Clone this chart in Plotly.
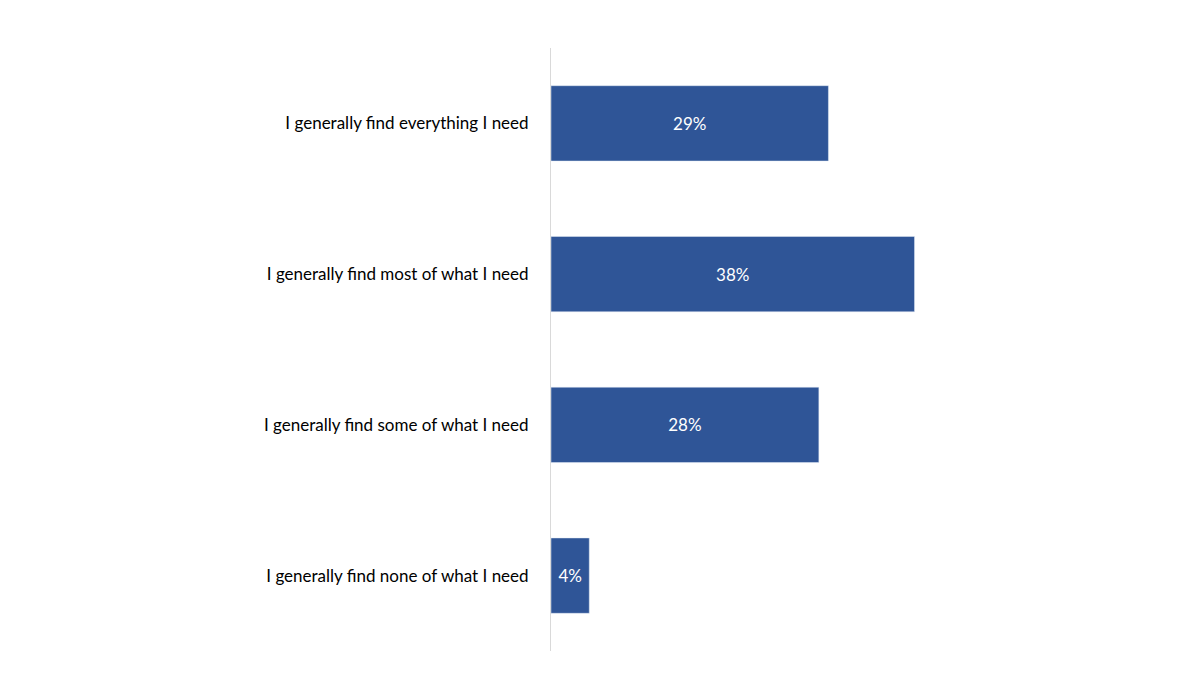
import plotly.graph_objects as go

categories = [
    "I generally find everything I need",
    "I generally find most of what I need",
    "I generally find some of what I need",
    "I generally find none of what I need",
]
values = [29, 38, 28, 4]
labels = ["29%", "38%", "28%", "4%"]

fig = go.Figure(go.Bar(
    x=values, y=categories, orientation="h",
    marker_color="#2F5597",
    text=labels, textposition="inside", insidetextanchor="middle",
    textfont=dict(color="white", size=17),
    cliponaxis=False,
))

fig.update_layout(
    width=1200, height=675,
    margin=dict(l=543, r=83, t=40, b=32),
    plot_bgcolor="white", paper_bgcolor="white",
    font=dict(family="Lato, sans-serif", size=17, color="#000000"),
    bargap=0.5,
    showlegend=False,
    uniformtext=dict(minsize=17, mode="show"),
)
fig.update_xaxes(range=[0, 60], visible=False)
fig.update_yaxes(autorange="reversed", showline=True, linecolor="#d9d9d9",
                 linewidth=1, ticks="", ticklabelstandoff=18, showgrid=False)

fig.write_html("out.html")
